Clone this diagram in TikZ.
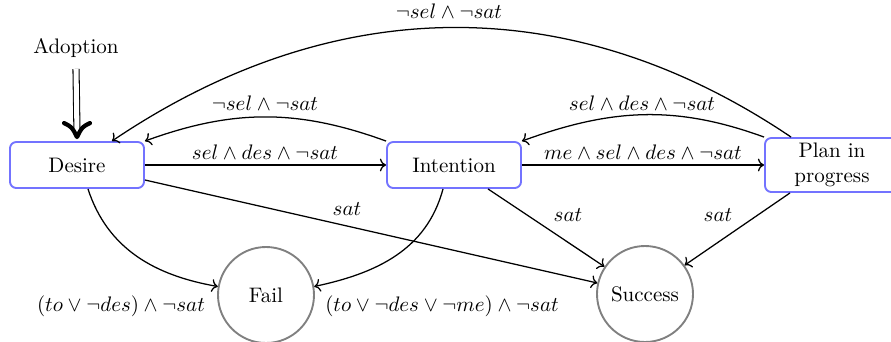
\documentclass[tikz,border=0pt]{standalone}
\usetikzlibrary{arrows.meta,calc}
\newdimen\pxu \pxu=0.476pt
\begin{document}
\begin{tikzpicture}[x=0.476pt,y=0.476pt,
  state/.style={draw=blue!55, line width=0.9pt, rounded corners=3pt, minimum width=134\pxu, minimum height=46\pxu, align=center, inner sep=2pt},
  endstate/.style={circle, draw=gray, line width=0.9pt, minimum size=96\pxu, inner sep=0pt},
  edge/.style={->, line width=0.6pt},
  lab/.style={inner sep=1pt},
  chevron/.style={line width=2pt, line cap=round, line join=round}]
\useasboundingbox (0,0) rectangle (891,-341);
\node[state] (des) at (77,-165) {Desire};
\node[state] (int) at (454,-165) {Intention};
\node[state, minimum height=54\pxu] (plan) at (832,-165) {Plan in\\progress};
\node[endstate] (fail) at (266,-295) {Fail};
\node[endstate] (succ) at (645,-294) {Success};
\node (adopt) at (76,-48) {Adoption};

\coordinate (adtip) at ($(des.north)+(0,4)$);
\draw[double, double distance=2.4pt, line width=0.5pt] ([yshift=-4\pxu]adopt.south) -- ($(adtip)+(0,4)$);
\draw[chevron] ($(adtip)+(-13,14)$) .. controls ($(adtip)+(-5,10)$) .. (adtip) .. controls ($(adtip)+(5,10)$) .. ($(adtip)+(13,14)$);

\draw[edge] (des.east) -- (int.west);
\draw[edge] (int.east) -- (plan.west);
\draw[edge] (int.north west) to[out=160,in=20] (des.north east);
\draw[edge] (plan.north west) to[out=160,in=20] (int.north east);
\draw[edge] ($(plan.north west)+(27,0)$) to[out=146,in=34] ($(des.north)+(35,0)$);
\draw[edge] ($(des.south)+(11,0)$) to[out=-72,in=170] (fail.170);
\draw[edge] ($(int.south)+(-11,0)$) to[out=-105,in=12] (fail.10);
\draw[edge] ($(des.east)+(0,-15)$) -- (succ.167);
\draw[edge] ($(int.south)+(34,0)$) -- (succ.146);
\draw[edge] ($(plan.south)+(-42,0)$) -- (succ.36);

\node[lab] (l1) at (265,-152) {$sel \wedge des \wedge \neg sat$};
\node[lab] (l2) at (643,-152) {$me \wedge sel \wedge des \wedge \neg sat$};
\node[lab] (l3) at (265,-103) {$\neg sel \wedge \neg sat$};
\node[lab] (l4) at (642,-103) {$sel \wedge des \wedge \neg sat$};
\node[lab] (l5) at (449,-11) {$\neg sel \wedge \neg sat$};
\node[lab] (l6) at (347,-209) {$sat$};
\node[lab] (l7) at (568,-215) {$sat$};
\node[lab] (l8) at (718,-215) {$sat$};
\node[lab] (l9) at (121,-306) {$(to \vee \neg des) \wedge \neg sat$};
\node[lab] (l10) at (442,-306) {$(to \vee \neg des \vee \neg me) \wedge \neg sat$};
\end{tikzpicture}
\end{document}
